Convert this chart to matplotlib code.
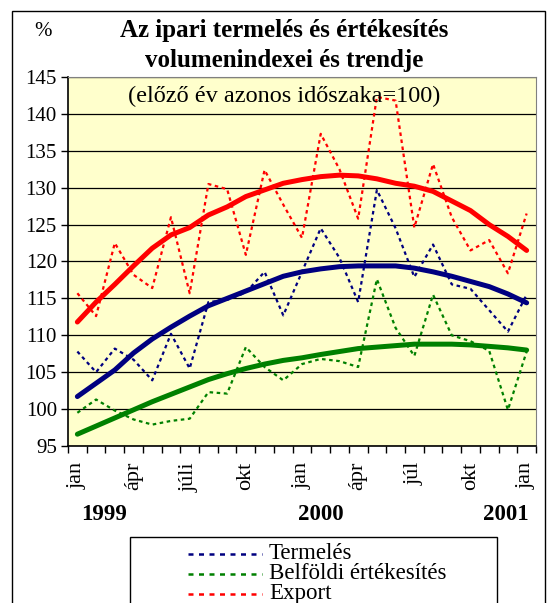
import numpy as np
import matplotlib.pyplot as plt
from matplotlib.lines import Line2D
from matplotlib.patches import Rectangle

plt.rcParams['font.family'] = ['Liberation Serif', 'DejaVu Serif']

# havi adatok 1999 jan - 2001 jan
months = np.arange(25)
month_pos = [0, 3, 6, 9, 12, 15, 18, 21, 24]
month_labels = ['jan', 'ápr', 'júli', 'okt', 'jan', 'ápr', 'júl', 'okt', 'jan']
years = ['1999', '2000', '2001']
year_pos = [1.4, 13.0, 22.9]

termeles = [107.8, 105.0, 108.2, 106.7, 103.9, 110.2, 105.5, 114.5, 114.8, 115.8,
            118.6, 112.7, 118.6, 124.5, 120.5, 114.5, 129.7, 124.5, 117.9, 122.3,
            116.9, 116.3, 113.4, 110.5, 115.5]
belfoldi = [99.5, 101.3, 99.8, 98.6, 97.9, 98.4, 98.7, 102.3, 102.1, 108.4,
            105.7, 103.9, 106.1, 106.8, 106.5, 105.7, 117.6, 111.0, 107.2, 115.5,
            110.0, 109.2, 107.9, 99.9, 107.8]
export = [115.7, 112.6, 122.5, 118.2, 116.4, 126.0, 115.7, 130.5, 129.8, 120.9,
          132.4, 127.7, 123.2, 137.3, 132.5, 125.8, 142.3, 141.8, 124.6, 133.2,
          126.0, 121.5, 122.9, 118.4, 126.5]

# trendek
termeles_tr = [101.7, 103.5, 105.3, 107.6, 109.5, 111.1, 112.6, 114.0, 115.0, 116.0,
               117.0, 118.0, 118.6, 119.0, 119.3, 119.4, 119.4, 119.4, 119.1, 118.6,
               118.0, 117.3, 116.6, 115.6, 114.4]
belfoldi_tr = [96.6, 97.7, 98.8, 99.9, 101.0, 102.0, 103.0, 104.0, 104.8, 105.5,
               106.1, 106.6, 106.95, 107.4, 107.8, 108.2, 108.4, 108.6, 108.8, 108.8,
               108.8, 108.7, 108.5, 108.3, 108.0]
export_tr = [111.8, 114.5, 116.9, 119.4, 121.8, 123.6, 124.6, 126.3, 127.4, 128.8,
             129.7, 130.6, 131.1, 131.5, 131.7, 131.6, 131.2, 130.6, 130.2, 129.5,
             128.2, 126.9, 125.0, 123.4, 121.5]

W, H = 547, 603
fig = plt.figure(figsize=(W / 100, H / 100), dpi=100)
ax = fig.add_axes([68 / W, 1 - 446 / H, (536 - 68) / W, (446 - 77) / H])
ax.set_facecolor('#FFFFCC')

navy, green, red = '#000080', '#008000', '#FF0000'
dots = (0, (1.6, 1.6))

ax.plot(months, termeles, color=navy, lw=1.6, ls=dots)
ax.plot(months, belfoldi, color=green, lw=1.6, ls=dots)
ax.plot(months, export, color=red, lw=1.6, ls=dots)
ax.plot(months, termeles_tr, color=navy, lw=3.6, solid_capstyle='round')
ax.plot(months, belfoldi_tr, color=green, lw=3.6, solid_capstyle='round')
ax.plot(months, export_tr, color=red, lw=3.6, solid_capstyle='round')

ax.set_xlim(-0.5, 24.5)
ax.set_ylim(95, 145)
ax.set_yticks(np.arange(95, 146, 5))
ax.yaxis.grid(True, color='black', lw=0.9)
ax.set_axisbelow(True)
ax.tick_params(axis='y', length=5, width=1, direction='out', labelsize=15, pad=3)

ax.set_xticks(month_pos)
ax.set_xticklabels(month_labels, rotation=90, fontsize=16)
ax.set_xticks(np.arange(-0.5, 25, 1), minor=True)
ax.tick_params(axis='x', which='major', length=0, pad=11.5)
ax.tick_params(axis='x', which='minor', length=5, width=1, direction='out')

for s in ['top', 'right']:
    ax.spines[s].set_color('#808080')
for s in ['left', 'bottom']:
    ax.spines[s].set_color('black')
    ax.spines[s].set_linewidth(1.2)

for lab, p in zip(years, year_pos):
    ax.text(p, -0.185, lab, transform=ax.get_xaxis_transform(), ha='center', va='center',
            fontsize=16.5, fontweight='bold')

fig.text(284 / W, 1 - 31 / H, 'Az ipari termelés és értékesítés', ha='center', va='center',
         fontsize=18, fontweight='bold')
fig.text(284 / W, 1 - 61 / H, 'volumenindexei és trendje', ha='center', va='center',
         fontsize=18, fontweight='bold')
fig.text(284 / W, 1 - 96 / H, '(előző év azonos időszaka=100)', ha='center', va='center',
         fontsize=17.5)
fig.text(43 / W, 1 - 31 / H, '%', ha='center', va='center', fontsize=15)

# keret
fig.patches.append(Rectangle((12 / W, -0.05), (545 - 12) / W, 1.05 - 11 / H, transform=fig.transFigure,
                             fill=False, edgecolor='black', lw=1.0))
fig.patches.append(Rectangle((130 / W, -0.05), (497 - 130) / W, 0.05 + 1 - 537 / H,
                             transform=fig.transFigure, fill=False, edgecolor='black', lw=1.0))

legend_names = ['Termelés', 'Belföldi értékesítés', 'Export']
for k, (name, c) in enumerate(zip(legend_names, [navy, green, red])):
    yy = 1 - (553.5 + 20 * k) / H
    fig.add_artist(Line2D([188 / W, 262 / W], [yy, yy], transform=fig.transFigure,
                          color=c, lw=1.8, ls=(0, (2, 2.2))))
    fig.text(269 / W, yy, name, ha='left', va='center', fontsize=16.5)

fig.savefig('out.png', dpi=100)
